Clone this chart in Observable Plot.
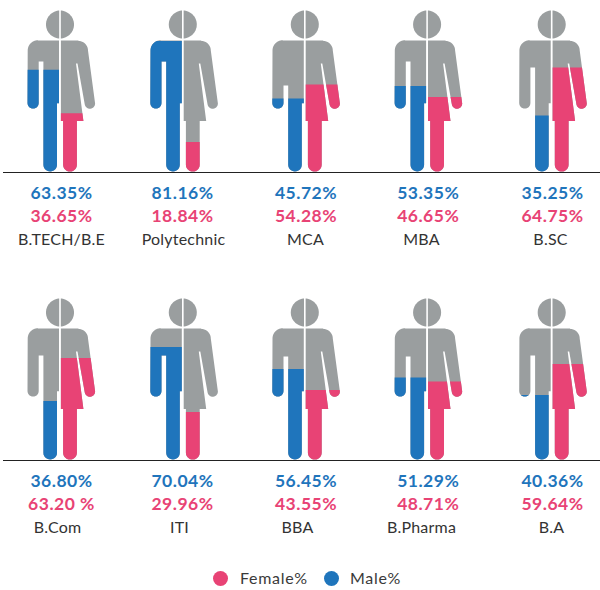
<!DOCTYPE html>
<html>
<head>
<meta charset="utf-8">
<script src="https://cdn.jsdelivr.net/npm/d3@7"></script>
<script src="https://cdn.jsdelivr.net/npm/@observablehq/plot@0.6"></script>
<style>
  html, body { margin: 0; padding: 0; background: #fff; }
  #legend { position: relative; height: 22px; margin-top: -9px; font: 16px Lato, sans-serif; color: #3a3a3a; letter-spacing: 0.7px; }
  #legend i { position: absolute; top: 3.5px; width: 15px; height: 15px; border-radius: 50%; }
  #legend span { position: absolute; top: 1px; }
  [font-size="17.5"] { letter-spacing: 0.5px; }
  [font-size="16"] { letter-spacing: 0.2px; }
</style>
</head>
<body>
<div id="chart"></div>
<div id="legend">
  <i style="left:213px;background:#e84375"></i><span style="left:240px">Female%</span>
  <i style="left:324px;background:#1f75bc"></i><span style="left:350px">Male%</span>
</div>
<script>
// ---- data ----
const programs = ["B.TECH/B.E","Polytechnic","MCA","MBA","B.SC","B.Com","ITI","BBA","B.Pharma","B.A"];
const maleText = ["63.35%","81.16%","45.72%","53.35%","35.25%","36.80%","70.04%","56.45%","51.29%","40.36%"];
const femaleText = ["36.65%","18.84%","54.28%","46.65%","64.75%","63.20 %","29.96%","43.55%","48.71%","59.64%"];

// ---- layout ----
const figureCenters = [59.5, 182.3, 304.3, 426.6, 551.2];
const valueCenters = [61, 182, 305.5, 427.7, 552];
const labelCenters = [61, 183, 305, 421, 550, 57, 179, 297, 421, 551];
const armpitDepth = [21, 21, 45, 21, 27, 27, 27, 28, 28, 27]; // male arm gap below the shoulder
const BLUE = "#1f75bc", PINK = "#e84375", GREY = "#9a9e9f", INK = "#333333";
const PX = 1.62;                 // pixels per percentage point of figure height
const BASE = 172, BAND = 288;    // baseline and row height in pixels
const toV = p => 100 - p / PX;   // p = pixels below the top of the head

const arc = (cx, cy, r, a0, a1, n = 14) => d3.range(n + 1).map(i => {
  const a = (a0 + (a1 - a0) * i / n) * Math.PI / 180;
  return [cx + r * Math.cos(a), cy + r * Math.sin(a)];
});

const maleOutline = depth => [
  [-1, 30], [-22, 30], ...arc(-22, 40, 10.3, 270, 180),
  ...arc(-26.9, 92.5, 5.6, 180, 0), [-21.3, 30 + depth], [-16.6, 30 + depth],
  ...arc(-9.8, 154.2, 6.8, 180, 0), [-3, 92.7], [-1, 92.7]
];
const femaleOutline = [
  [0.9, 30], [18.5, 30], ...arc(18.5, 40, 9.5, 270, 360, 10),
  ...arc(29.9, 93, 5.2, 0, 170), [17.5, 53], [16, 53], [23.4, 110.5], [16.9, 110.5],
  ...arc(10, 154.2, 6.9, 0, 180), [3.1, 110.5], [0.9, 110.5]
];
const headLeft = arc(0, 14, 14, 90, 270, 30).map(([u, p]) => [Math.min(u, -0.8), p]);
const headRight = arc(0, 14, 14, -90, 90, 30).map(([u, p]) => [Math.max(u, 0.8), p]);

// keep the part of a polygon that lies below a level (percent of figure height)
function below(poly, level) {
  const out = [];
  poly.forEach((a, i) => {
    const b = poly[(i + 1) % poly.length];
    const ina = a[1] <= level, inb = b[1] <= level;
    if (ina) out.push(a);
    if (ina !== inb) {
      const t = (level - a[1]) / (b[1] - a[1]);
      out.push([a[0] + t * (b[0] - a[0]), level]);
    }
  });
  return out;
}

const table = programs.map((name, i) => ({
  name, i, col: i % 5, row: Math.floor(i / 5),
  male: parseFloat(maleText[i]), female: parseFloat(femaleText[i]),
  maleText: maleText[i], femaleText: femaleText[i]
}));

const toPoints = (d, poly, id) => poly.map(([u, v]) => ({
  x: figureCenters[d.col] + u, y: v, id: d.i + id, row: d.row
}));
const unit = poly => poly.map(([u, p]) => [u, toV(p)]);

const greyPts = table.flatMap(d => [
  ...toPoints(d, unit(headLeft), "hl"), ...toPoints(d, unit(headRight), "hr"),
  ...toPoints(d, unit(maleOutline(armpitDepth[d.i])), "m"), ...toPoints(d, unit(femaleOutline), "f")
]);
const malePts = table.flatMap(d => toPoints(d, below(unit(maleOutline(armpitDepth[d.i])), d.male), "m"));
const femalePts = table.flatMap(d => toPoints(d, below(unit(femaleOutline), d.female), "f"));

const textCommon = { fy: "row", textAnchor: "middle", lineAnchor: "middle", fontFamily: "Lato, sans-serif" };
const textV = pixel => (BASE - pixel) / PX;

const chart = Plot.plot({
  width: 600, height: BAND * 2,
  marginTop: 0, marginRight: 0, marginBottom: 0, marginLeft: 0,
  x: { domain: [0, 600], axis: null },
  y: { domain: [(BASE - BAND) / PX, BASE / PX], axis: null },
  fy: { domain: [0, 1], padding: 0, round: false, axis: null },
  marks: [
    Plot.line(greyPts, { x: "x", y: "y", z: "id", fy: "row", fill: GREY, stroke: "none" }),
    Plot.line(malePts, { x: "x", y: "y", z: "id", fy: "row", fill: BLUE, stroke: "none" }),
    Plot.line(femalePts, { x: "x", y: "y", z: "id", fy: "row", fill: PINK, stroke: "none" }),
    Plot.ruleY(table.filter(d => d.col === 0), { y: 0, fy: "row", x1: 3, x2: 600, stroke: "#222", strokeWidth: 1.2 }),
    Plot.text(table, { ...textCommon, x: d => valueCenters[d.col], y: () => textV(193), text: "maleText", fill: BLUE, fontSize: 17.5, fontWeight: 700 }),
    Plot.text(table, { ...textCommon, x: d => valueCenters[d.col], y: () => textV(215.5), text: "femaleText", fill: PINK, fontSize: 17.5, fontWeight: 700 }),
    Plot.text(table, { ...textCommon, x: d => labelCenters[d.i], y: () => textV(239), text: "name", fill: INK, fontSize: 16 })
  ]
});
document.getElementById("chart").appendChild(chart);
</script>
</body>
</html>
